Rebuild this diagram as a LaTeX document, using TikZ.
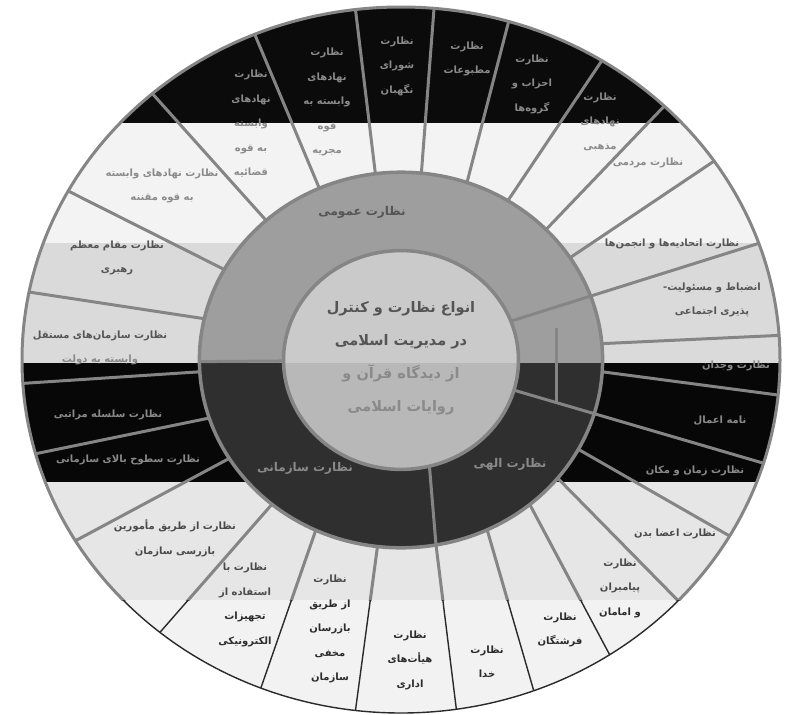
\documentclass[tikz,border=0pt]{standalone}
\usepackage{fontspec}
\newfontfamily\farsi[Script=Arabic]{DejaVu Sans}
\TeXXeTstate=1
\newcommand\fa[1]{\beginR #1\endR}
\definecolor{bandA}{HTML}{0B0B0B}
\definecolor{bandB}{HTML}{F3F3F3}
\definecolor{bandC}{HTML}{DADADA}
\definecolor{bandD}{HTML}{070707}
\definecolor{bandE}{HTML}{E6E6E6}
\definecolor{bandF}{HTML}{F2F2F2}
\definecolor{ringT}{HTML}{9E9E9E}
\definecolor{ringB}{HTML}{2F2F2F}
\definecolor{coreT}{HTML}{CACACA}
\definecolor{coreB}{HTML}{B8B8B8}
\definecolor{fuzzy}{HTML}{858585}
\definecolor{crisp}{HTML}{2A2A2A}
\definecolor{txtG}{HTML}{8A8A8A}
\definecolor{txtM}{HTML}{555555}
\definecolor{txtE}{HTML}{4A4A4A}
\definecolor{txtF}{HTML}{2C2C2C}
\begin{document}
\begin{tikzpicture}[x=1pt,y=-1pt,
  lbl/.style={font=\farsi\bfseries\fontsize{10}{24.5}\selectfont, align=center, inner sep=0pt},
  mid/.style={font=\farsi\bfseries\fontsize{12}{14}\selectfont, align=center, inner sep=0pt},
  tG/.style={text=txtG}, tM/.style={text=txtM}, tE/.style={text=txtE}, tF/.style={text=txtF},
  fuzzyline/.style={draw=fuzzy, line width=3pt},
  crispline/.style={draw=crisp, line width=1.4pt}]
\useasboundingbox (0,0) rectangle (785,715);
\fill[white] (0,0) rectangle (785,715);
% bands inside the outer circle
\begin{scope}
  \clip (401,360) ellipse [x radius=379pt, y radius=353pt];
  \fill[bandA] (0,0) rectangle (785,123);
  \fill[bandB] (0,123) rectangle (785,243);
  \fill[bandC] (0,243) rectangle (785,363);
  \fill[bandD] (0,363) rectangle (785,482);
  \fill[bandE] (0,482) rectangle (785,600);
  \fill[bandF] (0,600) rectangle (785,715);
\end{scope}
% middle ring
\begin{scope}
  \clip (401,360) ellipse [x radius=201.6pt, y radius=187.8pt];
  \fill[ringT] (0,0) rectangle (785,363);
  \fill[ringB] (0,363) rectangle (785,715);
\end{scope}
% core
\begin{scope}
  \clip (401,360) ellipse [x radius=117.5pt, y radius=109.4pt];
  \fill[coreT] (0,0) rectangle (785,363);
  \fill[coreB] (0,363) rectangle (785,715);
\end{scope}
\def\spokes{113.9/0.532/112.7, 97.3/0.532/96.9, 84.2/0.532/85, 70.9/0.532/73.5,
  58/0.532/58, 44/0.532/46, 33/0.532/34.3, 20.8/0.31/19.3, 5/0.532/4, -3.6/0.532/-5.7,
  -16/0.31/-17, -28.4/0.532/-29.9, -39/0.532/-43, -50.3/0.532/-56.6, -64.7/0.532/-69.5,
  -80/0.532/-81.6, 263.3/0.532/263.1, 245/0.532/248.3, 230.2/0.532/230.5,
  211.6/0.532/210.8, 198/0.532/195.4, 183.6/0.532/183.8, 167.3/0.532/168.9,
  151.2/0.532/151.4, 132/0.532/131}
\begin{scope}
  \clip (0,0) rectangle (785,600);
  \foreach \ia/\ir/\oa in \spokes
    \draw[fuzzyline] ({401+379*\ir*cos(\ia)},{360-353*\ir*sin(\ia)}) -- ({401+379*cos(\oa)},{360-353*sin(\oa)});
  \draw[fuzzyline] ({401+379*0.31*cos(-76)},{360-353*0.31*sin(-76)}) -- ({401+379*0.532*cos(-80)},{360-353*0.532*sin(-80)});
  \draw[fuzzyline] ({401+379*0.31*cos(180.5)},{360-353*0.31*sin(180.5)}) -- ({401+379*0.532*cos(180.5)},{360-353*0.532*sin(180.5)});
  \draw[fuzzyline] (556,328) -- (556,402);
  \draw[fuzzyline] (401,360) ellipse [x radius=379pt, y radius=353pt];
  \draw[fuzzyline, line width=3.5pt] (401,360) ellipse [x radius=201.6pt, y radius=187.8pt];
  \draw[fuzzyline, line width=3.5pt] (401,360) ellipse [x radius=117.5pt, y radius=109.4pt];
\end{scope}
\begin{scope}
  \clip (0,600) rectangle (785,715);
  \foreach \ia/\ir/\oa in \spokes
    \draw[crispline] ({401+379*\ir*cos(\ia)},{360-353*\ir*sin(\ia)}) -- ({401+379*cos(\oa)},{360-353*sin(\oa)});
  \draw[crispline] (401,360) ellipse [x radius=379pt, y radius=353pt];
\end{scope}
% outer ring labels
\node[lbl,tG] (l1) at (162,186) {\fa{نظارت نهادهای وابسته}\\\fa{به قوه مقننه}};
\node[lbl,tG] (l2) at (251,124) {\fa{نظارت}\\\fa{نهادهای}\\\fa{وابسته}\\\fa{به قوه}\\\fa{قضائیه}};
\node[lbl,tG] (l3) at (327,102) {\fa{نظارت}\\\fa{نهادهای}\\\fa{وابسته به}\\\fa{قوه}\\\fa{مجریه}};
\node[lbl,tG] (l4) at (397,66) {\fa{نظارت}\\\fa{شورای}\\\fa{نگهبان}};
\node[lbl,tG] (l5) at (467,59) {\fa{نظارت}\\\fa{مطبوعات}};
\node[lbl,tG] (l6) at (532,84) {\fa{نظارت}\\\fa{احزاب و}\\\fa{گروه‌ها}};
\node[lbl,tG] (l7) at (600,122) {\fa{نظارت}\\\fa{نهادهای}\\\fa{مذهبی}};
\node[lbl,tG] (l8) at (648,163) {\fa{نظارت مردمی}};
\node[lbl,tM] (l9) at (672,244) {\fa{نظارت اتحادیه‌ها و انجمن‌ها}};
\node[lbl,tM] (l10) at (712,300) {\fa{انضباط و مسئولیت-}\\\fa{پذیری اجتماعی}};
\node[lbl,tG] (l11) at (736,366) {\fa{نظارت وجدان}};
\node[lbl,tG] (l12) at (720,421) {\fa{نامه اعمال}};
\node[lbl,tG] (l13) at (695,471) {\fa{نظارت زمان و مکان}};
\node[lbl,tE] (l14) at (675,534) {\fa{نظارت اعضا بدن}};
\node[lbl,tE] (l15) at (620,588) {\fa{نظارت}\\\fa{پیامبران}\\{\color{txtF}\fa{و امامان}}};
\node[lbl,tF] (l16) at (560,630) {\fa{نظارت}\\\fa{فرشتگان}};
\node[lbl,tF] (l17) at (487,662) {\fa{نظارت}\\\fa{خدا}};
\node[lbl,tF] (l18) at (410,660) {\fa{نظارت}\\\fa{هیأت‌های}\\\fa{اداری}};
\node[lbl,tF] (l19) at (330,629) {{\color{txtE}\fa{نظارت}}\\\fa{از طریق}\\\fa{بازرسان}\\\fa{مخفی}\\\fa{سازمان}};
\node[lbl,tF] (l20) at (245,605) {{\color{txtE}\fa{نظارت با}}\\{\color{txtE}\fa{استفاده از}}\\\fa{تجهیزات}\\\fa{الکترونیکی}};
\node[lbl,tE] (l21) at (175,538) {\fa{نظارت از طریق مأمورین}\\\fa{بازرسی سازمان}};
\node[lbl,tG] (l22) at (128,460) {\fa{نظارت سطوح بالای سازمانی}};
\node[lbl,tG] (l23) at (108,415) {\fa{نظارت سلسله مراتبی}};
\node[lbl,tM] (l24) at (100,348) {\fa{نظارت سازمان‌های مستقل}\\{\color{txtG}\fa{وابسته به دولت}}};
\node[lbl,tM] (l25) at (117,258) {\fa{نظارت مقام معظم}\\\fa{رهبری}};
% middle ring labels
\node[mid,text=txtM] (m1) at (362,212) {\fa{نظارت عمومی}};
\node[mid,text=txtG] (m2) at (305,468) {\fa{نظارت سازمانی}};
\node[mid,text=txtG] (m3) at (510,464) {\fa{نظارت الهی}};
% centre
\node[lbl,font=\farsi\bfseries\fontsize{14.5}{33}\selectfont,text=txtM] (c) at (401,358)
  {\fa{انواع نظارت و کنترل}\\\fa{در مدیریت اسلامی}\\{\color{txtG}\fa{از دیدگاه قرآن و}}\\{\color{txtG}\fa{روایات اسلامی}}};
\end{tikzpicture}
\end{document}
